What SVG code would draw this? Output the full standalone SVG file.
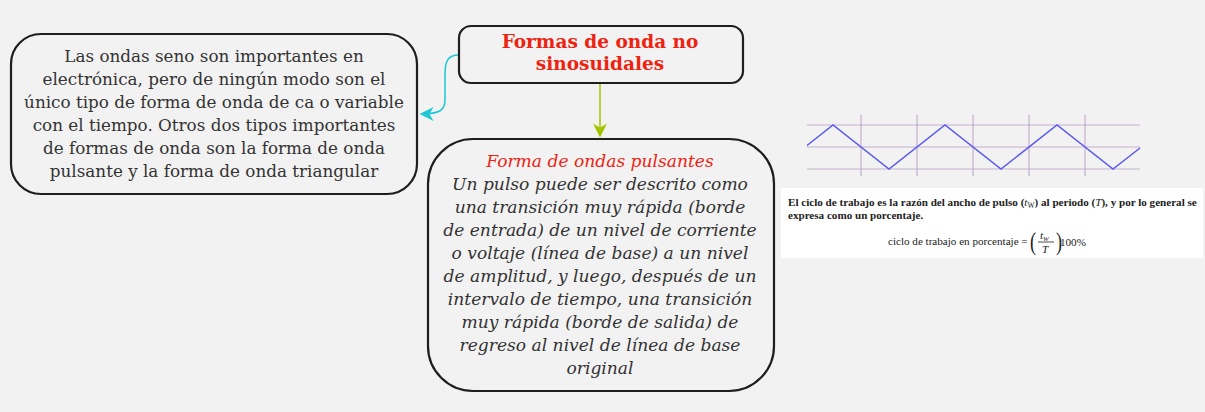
<svg xmlns="http://www.w3.org/2000/svg" width="1205" height="412" viewBox="0 0 1205 412">
<style>
.node{fill:#f2f2f2;stroke:#1e1e1e;stroke-width:2.2}
.t{font-family:"DejaVu Serif","Liberation Serif",serif;font-size:16.8px;fill:#333;text-anchor:middle}
.it{font-style:italic}
.red{fill:#ee2211}
.grid{stroke:#c4b0cc;stroke-width:1.2;fill:none}
.s{font-family:"Liberation Serif",serif;font-size:11.1px;fill:#222}
</style>
<defs>
<marker id="ac" viewBox="0 0 10 10" refX="9" refY="5" markerWidth="16" markerHeight="14" markerUnits="userSpaceOnUse" orient="auto"><path d="M0,0 L10,5 L0,10 L3,5 z" fill="#1ec8d6"/></marker>
<marker id="ag" viewBox="0 0 10 10" refX="9" refY="5" markerWidth="18" markerHeight="14" markerUnits="userSpaceOnUse" orient="auto"><path d="M0,0 L10,5 L0,10 L3,5 z" fill="#a6c400"/></marker>
</defs>
<rect width="1205" height="412" fill="#f2f2f2"/>
<g id="connectors">
<path d="M459,55 C447,55 445,62 445,75 L445,100 C445,110 440,114 421,114" fill="none" stroke="#1ec8d6" stroke-width="1.5" marker-end="url(#ac)"/>
<path d="M600,84 L600,136" fill="none" stroke="#a6c400" stroke-width="1.5" marker-end="url(#ag)"/>
</g>
<g id="node-left">
<rect class="node" x="11" y="34" width="406" height="160" rx="30"/>
<text class="t"><tspan x="214" y="62">Las ondas seno son importantes en</tspan><tspan x="214" y="85">electrónica, pero de ningún modo son el</tspan><tspan x="214" y="108">único tipo de forma de onda de ca o variable</tspan><tspan x="214" y="131">con el tiempo. Otros dos tipos importantes</tspan><tspan x="214" y="154">de formas de onda son la forma de onda</tspan><tspan x="214" y="177">pulsante y la forma de onda triangular</tspan></text>
</g>
<g id="node-top">
<rect class="node" x="459" y="26" width="284" height="57" rx="12"/>
<text class="t red" style="font-weight:bold;font-size:18.5px"><tspan x="600" y="48">Formas de onda no</tspan><tspan x="600" y="70">sinosuidales</tspan></text>
</g>
<g id="node-bottom">
<rect class="node" x="428" y="139" width="346" height="252" rx="45"/>
<text class="t it" style="font-size:17.1px"><tspan class="red" x="600" y="167">Forma de ondas pulsantes</tspan><tspan x="600" y="190">Un pulso puede ser descrito como</tspan><tspan x="600" y="213">una transición muy rápida (borde</tspan><tspan x="600" y="236">de entrada) de un nivel de corriente</tspan><tspan x="600" y="259">o voltaje (línea de base) a un nivel</tspan><tspan x="600" y="282">de amplitud, y luego, después de un</tspan><tspan x="600" y="305">intervalo de tiempo, una transición</tspan><tspan x="600" y="328">muy rápida (borde de salida) de</tspan><tspan x="600" y="351">regreso al nivel de línea de base</tspan><tspan x="600" y="374">original</tspan></text>
</g>
<g id="wave">
<path class="grid" d="M807,125 H1140 M807,147 H1140 M807,169 H1140 M861,115 V176 M917,115 V176 M973,115 V176 M1029,115 V176 M1085,115 V176"/>
<polyline points="807,145.5 833,125 889,169 945,125 1001,169 1057,125 1113,169 1140,148" fill="none" stroke="#5a5af0" stroke-width="1.5"/>
</g>
<g id="duty-cycle">
<rect x="781" y="188" width="422" height="70" fill="#ffffff"/>
<text class="s" font-weight="bold" x="788" y="206">El ciclo de trabajo es la razón del ancho de pulso (<tspan font-style="italic" font-weight="normal">t</tspan><tspan style="font-size:7.5px" dy="2" font-weight="normal">W</tspan><tspan dy="-2">) al periodo (</tspan><tspan font-style="italic" font-weight="normal">T</tspan>), y por lo general se</text>
<text class="s" font-weight="bold" x="788" y="219">expresa como un porcentaje.</text>
<text class="s" x="888" y="245">ciclo de trabajo en porcentaje =</text>
<text class="s" x="1029" y="250" style="font-size:26px" transform="translate(1032 0) scale(0.7 1) translate(-1032 0)">(</text>
<text class="s" x="1055" y="250" style="font-size:26px" transform="translate(1058 0) scale(0.7 1) translate(-1058 0)">)</text>
<text class="s" font-style="italic" x="1040" y="239">t<tspan style="font-size:7px" dy="1.5">W</tspan></text>
<line x1="1038" y1="242" x2="1054" y2="242" stroke="#222" stroke-width="0.8"/>
<text class="s" font-style="italic" x="1042" y="253">T</text>
<text class="s" x="1060" y="246">100%</text>
</g>
</svg>
